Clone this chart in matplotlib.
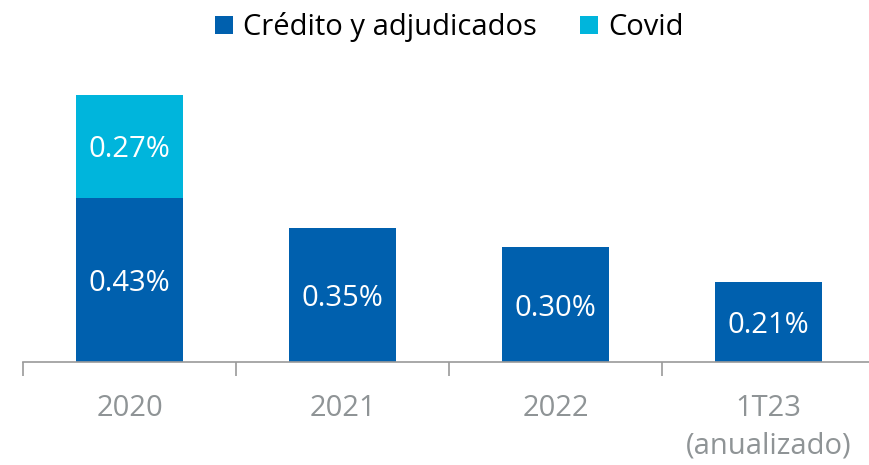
import matplotlib
matplotlib.use('Agg')
import matplotlib.pyplot as plt
import numpy as np

plt.rcParams['font.family'] = ['Open Sans', 'DejaVu Sans']

# datos
categorias = ['2020', '2021', '2022', '1T23\n(anualizado)']
credito = [0.43, 0.35, 0.30, 0.21]
covid = [0.27, 0, 0, 0]

azul = '#0060ae'
cian = '#00b5dc'
gris = '#8f9496'

fig = plt.figure(figsize=(8.69, 4.65), dpi=100)
ax = fig.add_axes([23 / 869, 103 / 465, 852 / 869, 286.5 / 465])

x = np.arange(len(categorias))
ax.bar(x, credito, width=0.5, color=azul, label='Crédito y adjudicados')
ax.bar(x, covid, width=0.5, bottom=credito, color=cian, label='Covid')

# etiquetas de valor
for i in range(len(x)):
    ax.text(x[i], credito[i] / 2 - 0.01, f'{credito[i]:.2f}%', ha='center', va='center',
            color='white', fontsize=21)
    if covid[i] > 0:
        ax.text(x[i], credito[i] + covid[i] / 2 - 0.01, f'{covid[i]:.2f}%', ha='center',
                va='center', color='white', fontsize=21)

ax.set_xlim(-0.5, len(x) - 0.5)
ax.set_ylim(0, 0.75)
ax.set_yticks([])
for s in ['top', 'right', 'left']:
    ax.spines[s].set_visible(False)
ax.spines['bottom'].set_color('#9a9a9a')
ax.spines['bottom'].set_linewidth(1.2)

ax.set_xticks(x)
ax.set_xticklabels(categorias, fontsize=21, color=gris, linespacing=1.4)
ax.tick_params(axis='x', which='major', length=0, pad=23)
ax.set_xticks(np.arange(len(x) + 1) - 0.5, minor=True)
ax.tick_params(axis='x', which='minor', length=10, color='#9a9a9a', width=1.2)

fig.legend(loc='upper center', bbox_to_anchor=(0.517, 1.03), ncol=2, frameon=False,
           fontsize=21, handlelength=0.6, handleheight=0.6, handletextpad=0.35,
           columnspacing=1.5)

fig.savefig('out.png', dpi=100)
